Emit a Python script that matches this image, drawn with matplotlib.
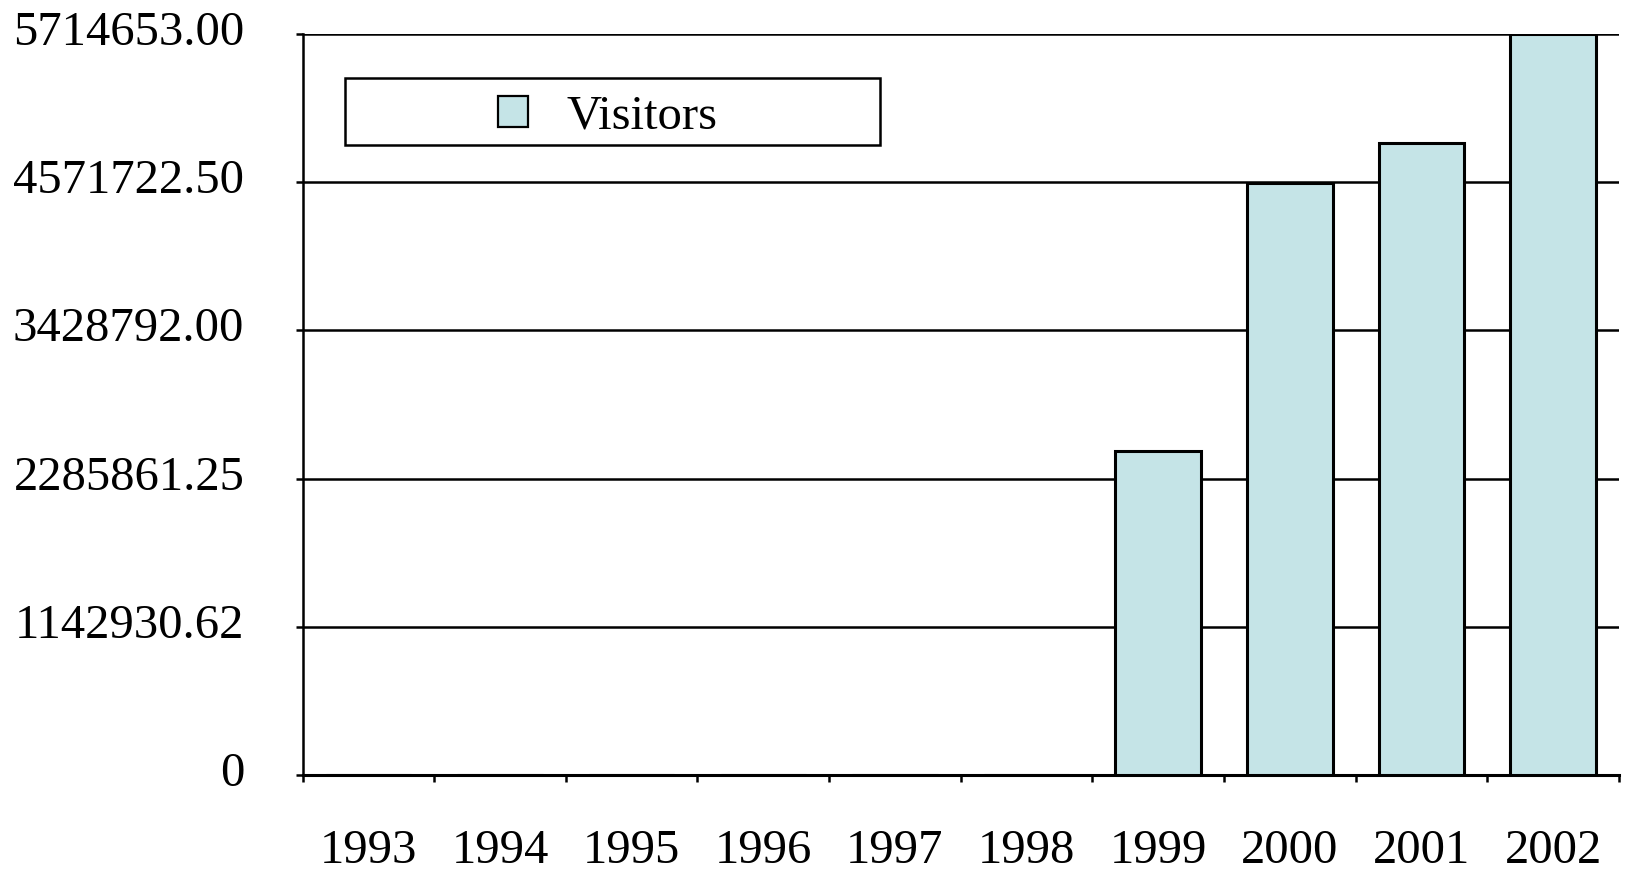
import numpy as np
import matplotlib
matplotlib.use('Agg')
import matplotlib.pyplot as plt
import matplotlib.transforms as mtransforms
from matplotlib.patches import Rectangle

plt.rcParams['font.family'] = ['Liberation Serif', 'DejaVu Serif']

# data
years = ['1993', '1994', '1995', '1996', '1997', '1998', '1999', '2000', '2001', '2002']
visitors = [0, 0, 0, 0, 0, 0, 2500700, 4565000, 4873000, 5714653]
ytick_values = [0, 1142930.62, 2285861.25, 3428792.00, 4571722.50, 5714653.00]
ytick_labels = ['0', '1142930.62', '2285861.25', '3428792.00', '4571722.50', '5714653.00']

bar_color = '#c5e4e7'

fig = plt.figure(figsize=(16.27, 8.72), dpi=100)
ax = fig.add_axes([0.186, 0.111, 0.809, 0.850])

x = np.arange(len(years))
ax.bar(x, visitors, width=0.65, color=bar_color, edgecolor='black',
       linewidth=2.2, zorder=3, label='Visitors')

ax.set_xlim(-0.5, len(years) - 0.5)
ax.set_ylim(0, ytick_values[-1])

# gridlines
ax.set_yticks(ytick_values)
ax.set_yticklabels(ytick_labels)
ax.yaxis.grid(True, color='black', linewidth=1.8, zorder=0)
ax.set_axisbelow(True)

# x: labels at centres, short ticks at category boundaries
ax.set_xticks(x)
ax.set_xticklabels(years)
ax.set_xticks(np.arange(-0.5, len(years)), minor=True)
ax.tick_params(axis='x', which='major', length=0, pad=39, labelsize=35)
ax.tick_params(axis='x', which='minor', length=5, width=1.8, direction='out')
ax.tick_params(axis='y', length=5, width=1.8, direction='out', pad=37, labelsize=35)

# nudge y labels up a little, like the original
offset = mtransforms.ScaledTranslation(0, 6 / 100, fig.dpi_scale_trans)
for lbl in ax.get_yticklabels():
    lbl.set_transform(lbl.get_transform() + offset)

ax.spines['right'].set_visible(False)
ax.spines['top'].set_visible(False)
ax.spines['left'].set_linewidth(1.8)
ax.spines['bottom'].set_linewidth(2.2)

# legend box
ax.add_patch(Rectangle((0.032, 0.850), 0.4066, 0.0906, transform=ax.transAxes,
                       facecolor='white', edgecolor='black', linewidth=1.8,
                       zorder=4, clip_on=False))
leg = ax.legend(loc='center', bbox_to_anchor=(0.232, 0.889), frameon=False,
                fontsize=35, handlelength=0.6, handleheight=0.6,
                handletextpad=0.8, borderpad=0, borderaxespad=0)
leg.set_zorder(5)
for h in leg.legend_handles:
    h.set_linewidth(1.6)

plt.savefig('out.png', dpi=100)
